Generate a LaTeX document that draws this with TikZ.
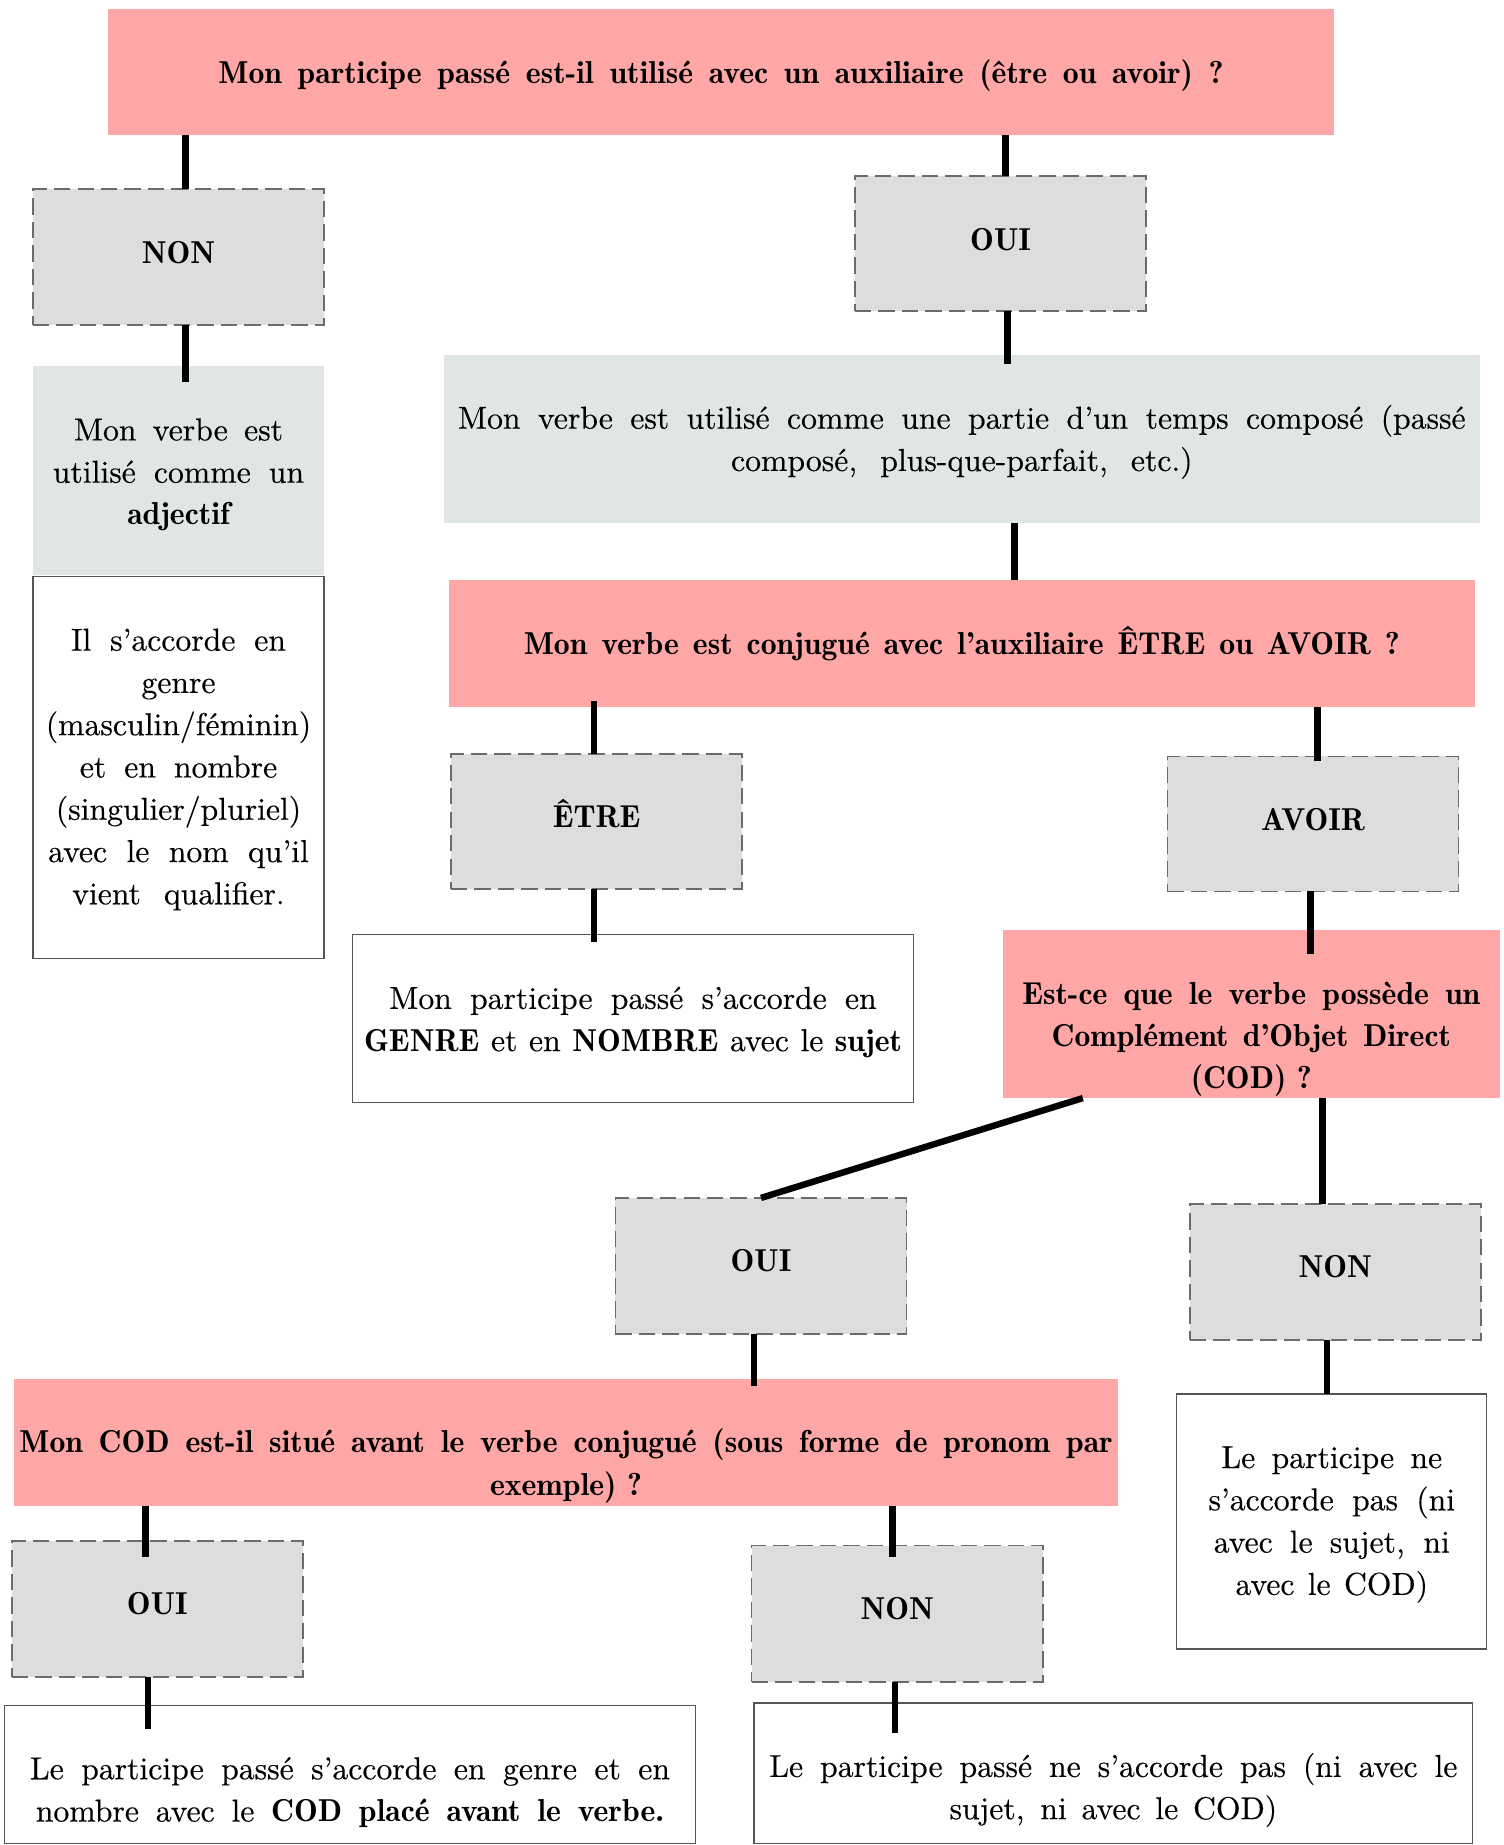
\documentclass[tikz,border=0pt]{standalone}
\usepackage{fontspec}
\usepackage{tikz}
\usetikzlibrary{calc}
\newfontfamily\regf{lmroman10-regular}[Extension=.otf, FakeBold=0.3]
\newfontfamily\demif{lmromandemi10-regular}[Extension=.otf]
\definecolor{pinkb}{HTML}{FFA7A6}
\definecolor{grayb}{HTML}{DDDDDD}
\definecolor{blueb}{HTML}{DFE6E5}
\definecolor{dashc}{HTML}{6B6B6B}
\definecolor{framec}{HTML}{555555}
\newcommand\demi[1]{{\demif #1}}
\newcommand\Lrow[1]{\hbox to\hsize{\hss\strut #1\hss}}
\newcommand\Srow[2]{\hbox to\hsize{\hss\makebox[#1pt][s]{\spaceskip=0.35em plus 1em minus 0.25em\relax\strut #2}\hss}}
\newcommand\bxt[3]{\vbox to #2{\hsize=#1\relax\vskip 37.8pt\relax #3\vss}}
\tikzset{
  bxbase/.style={inner sep=0pt, outer sep=0pt, anchor=center,
    font={\regf\fontsize{27pt}{36pt}\selectfont}},
  pinkbox/.style={bxbase, fill=pinkb},
  graybox/.style={bxbase, fill=grayb, draw=dashc, line width=1.4pt, dash pattern=on 14pt off 6pt},
  bluebox/.style={bxbase, fill=blueb},
  whitebox/.style={bxbase, fill=white, draw=framec, line width=1.1pt},
  conn/.style={line width=5.5pt, draw=black}
}
\begin{document}
\begin{tikzpicture}[x=1pt,y=-1pt]
\useasboundingbox (0,0) rectangle (1280,1571);
% boxes
\node[pinkbox] (title) at (614,61.5) {\bxt{1044pt}{107pt}{\Srow{856}{\demi{Mon participe passé est-il utilisé avec un auxiliaire (être ou avoir) ?}}}};
\node[graybox] (nonA) at (152,219) {\bxt{248pt}{116pt}{\Lrow{\demi{NON}}}};
\node[graybox] (ouiA) at (852,207.5) {\bxt{248pt}{115pt}{\Lrow{\demi{OUI}}}};
\node[bluebox] (adj) at (152,401) {\bxt{248pt}{178pt}{\Srow{178}{Mon verbe est}\Srow{214}{utilisé comme un}\Lrow{\demi{adjectif}}}};
\node[whitebox] (accA) at (152,653.5) {\bxt{248pt}{325pt}{\Srow{183}{Il s’accorde en}\Lrow{genre}\Lrow{(masculin/féminin)}\Srow{168}{et en nombre}\Lrow{(singulier/pluriel)}\Srow{222}{avec le nom qu’il}\Srow{181}{vient qualifier.}}};
\node[bluebox] (temps) at (819,373.5) {\bxt{882pt}{143pt}{\Srow{858}{Mon verbe est utilisé comme une partie d’un temps composé (passé}\Srow{393}{composé, plus-que-parfait, etc.)}}};
\node[pinkbox] (conj) at (819,548) {\bxt{874pt}{108pt}{\Srow{746}{\demi{Mon verbe est conjugué avec l’auxiliaire ÊTRE ou AVOIR ?}}}};
\node[graybox] (etre) at (508,699.5) {\bxt{248pt}{115pt}{\Lrow{\demi{ÊTRE}}}};
\node[graybox] (avoir) at (1118,701.5) {\bxt{248pt}{115pt}{\Lrow{\demi{AVOIR}}}};
\node[whitebox] (accB) at (539,867.5) {\bxt{478pt}{143pt}{\Srow{415}{Mon participe passé s’accorde en}\Srow{458}{\demi{GENRE} et en \demi{NOMBRE} avec le \demi{sujet}}}};
\node[pinkbox] (cod) at (1065.5,863.5) {\bxt{423pt}{143pt}{\Srow{390}{\demi{Est-ce que le verbe possède un}}\Srow{340}{\demi{Complément d’Objet Direct}}\Lrow{\demi{(COD) ?}}}};
\node[graybox] (ouiB) at (648,1078) {\bxt{248pt}{116pt}{\Lrow{\demi{OUI}}}};
\node[graybox] (nonB) at (1137,1083) {\bxt{248pt}{116pt}{\Lrow{\demi{NON}}}};
\node[pinkbox] (codav) at (482,1228) {\bxt{940pt}{108pt}{\Srow{931}{\demi{Mon COD est-il situé avant le verbe conjugué (sous forme de pronom par}}\Lrow{\demi{exemple) ?}}}};
\node[whitebox] (accC) at (1134,1295.5) {\bxt{264pt}{217pt}{\Srow{188}{Le participe ne}\Srow{210}{s’accorde pas (ni}\Srow{201}{avec le sujet, ni}\Srow{164}{avec le COD)}}};
\node[graybox] (ouiC) at (134,1370) {\bxt{248pt}{116pt}{\Lrow{\demi{OUI}}}};
\node[graybox] (nonC) at (764,1374) {\bxt{248pt}{116pt}{\Lrow{\demi{NON}}}};
\node[whitebox] (accD) at (298,1511) {\bxt{588pt}{118pt}{\Srow{545}{Le participe passé s’accorde en genre et en}\Srow{535}{nombre avec le \demi{COD placé avant le verbe.}}}};
\node[whitebox] (accE) at (948,1510) {\bxt{612pt}{120pt}{\Srow{586}{Le participe passé ne s’accorde pas (ni avec le}\Srow{279}{sujet, ni avec le COD)}}};
% connectors
\draw[conn] (title.south -| 158,0) -- (nonA.north -| 158,0);
\draw[conn] (title.south -| 856,0) -- (ouiA.north -| 856,0);
\draw[conn] (nonA.south -| 158,0) -- ($(adj.north -| 158,0)+(0,13)$);
\draw[conn] (ouiA.south -| 858,0) -- ($(temps.north -| 858,0)+(0,8)$);
\draw[conn] (temps.south -| 864,0) -- (conj.north -| 864,0);
\draw[conn] ($(conj.south -| 506,0)+(0,-5)$) -- (etre.north -| 506,0);
\draw[conn] (conj.south -| 1122,0) -- ($(avoir.north -| 1122,0)+(0,4)$);
\draw[conn] (etre.south -| 506,0) -- ($(accB.north -| 506,0)+(0,6)$);
\draw[conn] (avoir.south -| 1116,0) -- ($(cod.north -| 1116,0)+(0,20)$);
\draw[conn] (cod.south -| 922,0) -- (ouiB.north);
\draw[conn] (cod.south -| 1126,0) -- (nonB.north -| 1126,0);
\draw[conn] (ouiB.south -| 642,0) -- ($(codav.north -| 642,0)+(0,6)$);
\draw[conn] (nonB.south -| 1130,0) -- (accC.north -| 1130,0);
\draw[conn] (codav.south -| 124,0) -- ($(ouiC.north -| 124,0)+(0,14)$);
\draw[conn] (codav.south -| 760,0) -- ($(nonC.north -| 760,0)+(0,10)$);
\draw[conn] (ouiC.south -| 126,0) -- ($(accD.north -| 126,0)+(0,20)$);
\draw[conn] (nonC.south -| 762,0) -- ($(accE.north -| 762,0)+(0,26)$);
\end{tikzpicture}
\end{document}
